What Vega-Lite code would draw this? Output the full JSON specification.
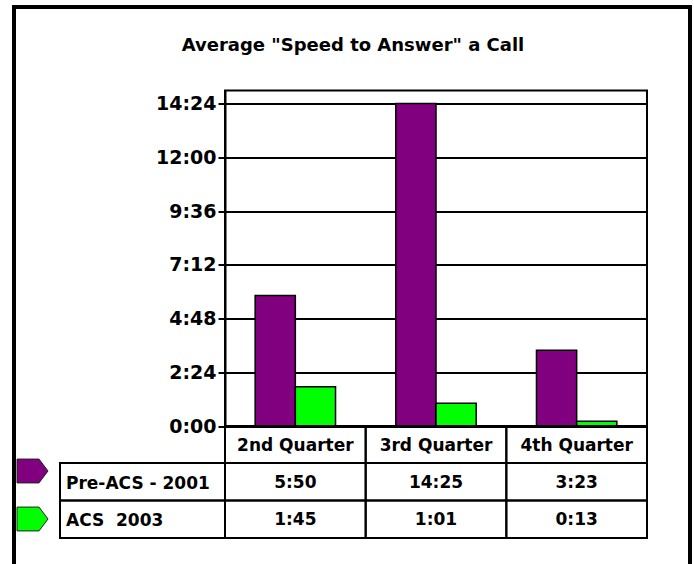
{
  "$schema": "https://vega.github.io/schema/vega-lite/v6.json",
  "width": 422,
  "height": 335.5,
  "autosize": {"type": "none"},
  "padding": {"left": 225, "top": 90.5, "right": 47, "bottom": 138},
  "background": "white",
  "config": {
    "view": {"stroke": "black", "strokeWidth": 2},
    "font": "DejaVu Sans"
  },
  "datasets": {
    "calls": [
      {"quarter": "2nd Quarter", "series": "Pre-ACS - 2001", "seconds": 350, "time": "5:50"},
      {"quarter": "3rd Quarter", "series": "Pre-ACS - 2001", "seconds": 865, "time": "14:25"},
      {"quarter": "4th Quarter", "series": "Pre-ACS - 2001", "seconds": 203, "time": "3:23"},
      {"quarter": "2nd Quarter", "series": "ACS\u00a0 2003", "seconds": 105, "time": "1:45"},
      {"quarter": "3rd Quarter", "series": "ACS\u00a0 2003", "seconds": 61, "time": "1:01"},
      {"quarter": "4th Quarter", "series": "ACS\u00a0 2003", "seconds": 13, "time": "0:13"}
    ],
    "titles": [{"title": "Average \"Speed to Answer\" a Call"}]
  },
  "layer": [
    {
      "data": {"name": "titles"},
      "mark": {"type": "rect", "fill": "transparent", "stroke": "black", "strokeWidth": 4},
      "encoding": {
        "x": {"field": "title", "type": "nominal", "axis": null, "scale": {"type": "band", "range": [-211, 465], "paddingInner": 0, "paddingOuter": 0}},
        "y": {"field": "title", "type": "nominal", "axis": null, "scale": {"type": "band", "range": [-83.5, 485], "paddingInner": 0, "paddingOuter": 0}}
      }
    },
    {
      "data": {"name": "titles"},
      "mark": {"type": "text", "font": "DejaVu Sans", "fontWeight": "bold", "fontSize": 18, "color": "black", "baseline": "middle"},
      "encoding": {
        "text": {"field": "title"},
        "x": {"field": "title", "type": "nominal", "axis": null, "scale": {"type": "band", "range": [118, 138], "paddingInner": 0, "paddingOuter": 0}},
        "y": {"field": "title", "type": "nominal", "axis": null, "scale": {"type": "band", "range": [-54.5, -34.5], "paddingInner": 0, "paddingOuter": 0}}
      }
    },
    {
      "data": {"name": "calls"},
      "mark": {"type": "bar", "stroke": "black", "strokeWidth": 1.5},
      "encoding": {
        "x": {"field": "quarter", "type": "nominal", "sort": ["2nd Quarter", "3rd Quarter", "4th Quarter"], "axis": null, "scale": {"paddingInner": 0, "paddingOuter": 0}},
        "xOffset": {"field": "series", "type": "nominal", "sort": ["Pre-ACS - 2001", "ACS\u00a0 2003"], "scale": {"paddingInner": 0, "paddingOuter": 0.75}},
        "y": {
          "field": "seconds", "type": "quantitative",
          "scale": {"domain": [0, 900], "nice": false, "zero": true},
          "axis": {
            "values": [0, 144, 288, 432, 576, 720, 864],
            "labelExpr": "floor(datum.value/60) + ':' + (datum.value % 60 < 10 ? '0' : '') + (datum.value % 60)",
            "title": null,
            "grid": true, "gridColor": "black", "gridWidth": 2, "gridOpacity": 1,
            "domainColor": "black", "domainWidth": 2,
            "tickColor": "black", "tickWidth": 2, "tickSize": 7,
            "labelPadding": 2, "labelFont": "DejaVu Sans", "labelFontWeight": "bold", "labelFontSize": 19, "labelColor": "black",
            "labelOverlap": false
          }
        },
        "color": {"field": "series", "type": "nominal", "scale": {"domain": ["Pre-ACS - 2001", "ACS\u00a0 2003"], "range": ["#800080", "#00ff00"]}, "legend": null}
      }
    },
    {
      "data": {"name": "calls"},
      "transform": [{"filter": "datum.series === 'Pre-ACS - 2001'"}],
      "encoding": {
        "x": {"field": "quarter", "type": "nominal", "sort": ["2nd Quarter", "3rd Quarter", "4th Quarter"], "axis": null, "scale": {"paddingInner": 0, "paddingOuter": 0}},
        "y": {"datum": "Quarter", "type": "nominal", "axis": null, "scale": {"type": "band", "range": [335.5, 372.5], "paddingInner": 0, "paddingOuter": 0}}
      },
      "layer": [
        {"mark": {"type": "rect", "fill": "transparent", "stroke": "black", "strokeWidth": 2}},
        {"mark": {"type": "text", "font": "DejaVu Sans", "fontWeight": "bold", "fontSize": 17, "color": "black", "baseline": "middle", "dy": 1},
         "encoding": {"text": {"field": "quarter"}}}
      ]
    },
    {
      "data": {"name": "calls"},
      "encoding": {
        "x": {"field": "quarter", "type": "nominal", "sort": ["2nd Quarter", "3rd Quarter", "4th Quarter"], "axis": null, "scale": {"paddingInner": 0, "paddingOuter": 0}},
        "y": {"field": "series", "type": "nominal", "sort": ["Pre-ACS - 2001", "ACS\u00a0 2003"], "axis": null, "scale": {"type": "band", "range": [372.5, 447.5], "paddingInner": 0, "paddingOuter": 0}}
      },
      "layer": [
        {"mark": {"type": "rect", "fill": "transparent", "stroke": "black", "strokeWidth": 2}},
        {"mark": {"type": "text", "font": "DejaVu Sans", "fontWeight": "bold", "fontSize": 17, "color": "black", "baseline": "middle", "dy": 1},
         "encoding": {"text": {"field": "time"}}}
      ]
    },
    {
      "data": {"name": "calls"},
      "transform": [{"filter": "datum.quarter === '2nd Quarter'"}],
      "encoding": {
        "x": {"datum": "label", "type": "nominal", "axis": null, "scale": {"type": "band", "range": [-165, 0], "paddingInner": 0, "paddingOuter": 0}},
        "y": {"field": "series", "type": "nominal", "sort": ["Pre-ACS - 2001", "ACS\u00a0 2003"], "axis": null, "scale": {"type": "band", "range": [372.5, 447.5], "paddingInner": 0, "paddingOuter": 0}}
      },
      "layer": [
        {"mark": {"type": "rect", "fill": "transparent", "stroke": "black", "strokeWidth": 2}},
        {"mark": {"type": "text", "font": "DejaVu Sans", "fontWeight": "bold", "fontSize": 17, "color": "black", "baseline": "middle", "align": "left", "dx": 6, "dy": 2},
         "encoding": {"text": {"field": "series"}, "x": {"datum": "label", "type": "nominal", "bandPosition": 0, "axis": null, "scale": {"type": "band", "range": [-165, 0], "paddingInner": 0, "paddingOuter": 0}}}}
      ]
    },
    {
      "data": {"name": "calls"},
      "transform": [{"filter": "datum.quarter === '2nd Quarter'"}],
      "mark": {"type": "point", "filled": true, "opacity": 1, "stroke": "#222222", "strokeWidth": 1, "size": 961,
               "shape": "M-1,-0.77L0.42,-0.77L1,0L0.42,0.77L-1,0.77Z"},
      "encoding": {
        "x": {"datum": "marker", "type": "nominal", "axis": null, "scale": {"type": "band", "range": [-208, -177], "paddingInner": 0, "paddingOuter": 0}},
        "y": {"field": "series", "type": "nominal", "sort": ["Pre-ACS - 2001", "ACS\u00a0 2003"], "axis": null, "scale": {"type": "band", "range": [356.5, 452.5], "paddingInner": 0, "paddingOuter": 0}},
        "color": {"field": "series", "type": "nominal", "legend": null}
      }
    }
  ],
  "resolve": {"scale": {"x": "independent", "y": "independent"}}
}
